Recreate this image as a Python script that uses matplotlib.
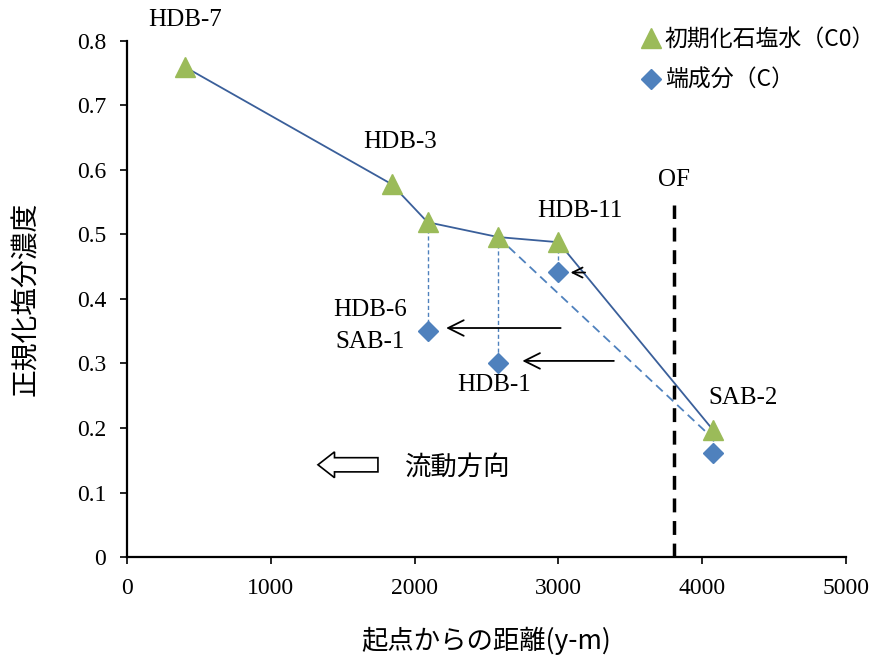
import matplotlib.pyplot as plt
from matplotlib.patches import FancyArrow

plt.rcParams['font.family'] = ['Liberation Serif', 'Noto Sans CJK JP']
jp = ['Noto Sans CJK JP', 'DejaVu Sans']

# data
names = ['HDB-7', 'HDB-3', 'HDB-6', 'HDB-1', 'HDB-11', 'SAB-2']
dist = [400, 1840, 2090, 2580, 3000, 4075]
c0 = [0.76, 0.578, 0.519, 0.496, 0.488, 0.197]
end_x = [2090, 2580, 3000, 4075]
end_c = [0.350, 0.300, 0.442, 0.161]
start_c = [0.519, 0.496, 0.488, 0.197]
of_x = 3805

fig = plt.figure(figsize=(8.74, 6.6), dpi=100)
ax = fig.add_axes([0.1453, 0.156, 0.8227, 0.782])

ax.plot(dist, c0, color='#3A5F9A', lw=1.3, zorder=2)
ax.plot([2580, 4045], [0.496, 0.19], color='#4F81BD', lw=1.3, ls=(0, (5, 3)), zorder=2)
for x, a, b in zip(end_x, start_c, end_c):
    ax.plot([x, x], [a, b], color='#4F81BD', lw=1.0, ls=(0, (3, 2)), zorder=1)

ax.plot(dist, c0, ls='none', marker='^', ms=15, color='#9BBB59', zorder=3,
        label='初期化石塩水（C0）')
ax.plot(end_x, end_c, ls='none', marker='D', ms=10, color='#4F81BD', zorder=3,
        label='端成分（C）')

ax.plot([of_x, of_x], [0, 0.545], color='black', lw=2.5, ls=(0, (4, 2.5)), zorder=2)
ax.text(of_x, 0.585, 'OF', fontsize=18, ha='center', va='center')

# mixing arrows
arw = dict(arrowstyle='->', color='black', lw=1.3, mutation_scale=28)
ax.annotate('', xy=(2200, 0.355), xytext=(3035, 0.355), arrowprops=arw)
ax.annotate('', xy=(2730, 0.304), xytext=(3405, 0.304), arrowprops=arw)
ax.annotate('', xy=(3065, 0.441), xytext=(3205, 0.441),
            arrowprops=dict(arrowstyle='->', color='black', lw=1.3, mutation_scale=18))

# flow direction
ax.add_patch(FancyArrow(1745, 0.143, -417, 0, width=0.022, head_width=0.04,
                        head_length=115, length_includes_head=True,
                        facecolor='white', edgecolor='black', lw=1.2, zorder=3))
ax.text(1935, 0.14, '流動方向', family=jp, fontsize=19, va='center', ha='left')

lab_pos = {'HDB-7': (403, 0.832), 'HDB-3': (1898, 0.643), 'HDB-11': (3150, 0.537),
           'HDB-1': (2552, 0.267), 'SAB-2': (4284, 0.247)}
for n, (x, y) in lab_pos.items():
    ax.text(x, y, n, fontsize=18, ha='center', va='center')
ax.text(1690, 0.358, 'HDB-6\nSAB-1', fontsize=18, ha='center', va='center',
        linespacing=1.55)

ax.set_xlim(0, 5000)
ax.set_ylim(0, 0.8)
ax.set_xticks(range(0, 5001, 1000))
ax.set_yticks([i / 10 for i in range(9)])
ax.set_yticklabels(['0'] + ['%.1f' % (i / 10) for i in range(1, 9)])
ax.tick_params(labelsize=17, direction='out', length=5, width=1.2, pad=10)
ax.spines['top'].set_visible(False)
ax.spines['right'].set_visible(False)
for s in ('left', 'bottom'):
    ax.spines[s].set_linewidth(1.6)

ax.set_xlabel('起点からの距離(y-m)', family=jp, fontsize=19, labelpad=20)
ax.set_ylabel('正規化塩分濃度', family=jp, fontsize=20, labelpad=26)

leg = ax.legend(loc='upper left', bbox_to_anchor=(0.72, 0.972), bbox_transform=fig.transFigure,
                frameon=False, prop={'family': jp, 'size': 16.5}, handletextpad=0.05,
                handlelength=1.1, labelspacing=0.8, borderaxespad=0)

fig.savefig('out.png', dpi=100)
